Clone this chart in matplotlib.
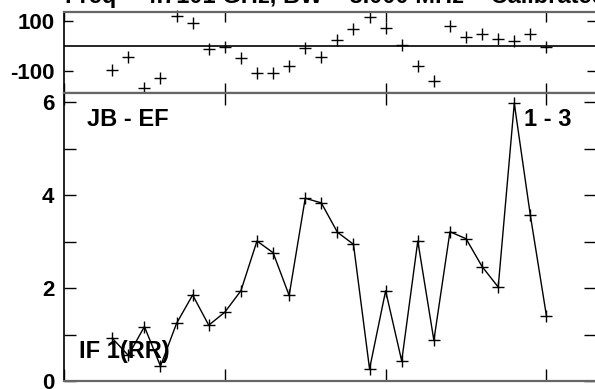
import numpy as np
import matplotlib.pyplot as plt

# ==================================================
W, H = 595, 389
TIEMPO = list(range(3, 31))      # 28 puntos, uno por unidad
FASE = [-95, -42, -167, -128, 120, 92, -13, -3, -46, -105,
        -105, -78, -7, -45, 24, 66, 116, 71, 3, -79,
        -138, 79, 37, 47, 26, 20, 47, -5]
AMPL = [0.92, 0.55, 1.17, 0.32, 1.24, 1.85, 1.20, 1.48, 1.94, 3.01,
        2.76, 1.84, 3.93, 3.83, 3.20, 2.94, 0.26, 1.94, 0.43, 3.01,
        0.875, 3.21, 3.06, 2.46, 2.02, 5.97, 3.56, 1.40]
TITULO = "Freq = 4.7101 GHz, BW = 8.000 MHz    Calibrated data"
GRIS = "#666666"
FS = 16
# ==================================================

plt.rcParams["font.family"] = ["Liberation Sans", "DejaVu Sans"]
plt.rcParams["font.weight"] = "bold"


def px(x, y):
    return x / W, 1 - y / H


def marco(ax):
    for s in ("top", "bottom"):
        ax.spines[s].set_color(GRIS); ax.spines[s].set_linewidth(1.6)
    ax.spines["left"].set_color("black"); ax.spines["left"].set_linewidth(1.2)
    ax.spines["right"].set_visible(False)
    ax.set_xlim(0, 33.1)
    ax.set_xticks([0, 10, 20, 30])
    ax.tick_params(axis="x", which="both", top=True, bottom=True, labelbottom=False,
                   direction="in", color="black", width=1)
    ax.tick_params(axis="y", which="both", left=True, right=True, direction="in",
                   width=1, labelsize=FS, pad=7)


fig = plt.figure(figsize=(W / 100, H / 100), dpi=100)
left, right = 64 / W, 596.3 / W

# panel de fase
axf = fig.add_axes([left, 1 - 92.7 / H, right - left, 80.7 / H])
marco(axf)
axf.set_ylim(-184, 134)
axf.set_yticks([-100, 100])
axf.set_yticklabels(["-100", "100"])
axf.tick_params(axis="y", length=6.5)
axf.tick_params(axis="x", length=7)
axf.axhline(0, color="black", lw=1.2)
axf.plot(TIEMPO, FASE, ls="none", marker="+", ms=9, mew=1, color="black", clip_on=False)

# panel de amplitud
axa = fig.add_axes([left, 1 - 381 / H, right - left, 288.3 / H])
marco(axa)
axa.set_ylim(0, 6.2)
axa.set_yticks([0, 2, 4, 6])
axa.set_yticks([1, 3, 5], minor=True)
axa.tick_params(axis="y", which="both", length=8.6)
axa.tick_params(axis="x", length=8.6)
axa.plot(TIEMPO, AMPL, color="black", lw=1, marker="+", ms=9, mew=1)

fig.text(*px(87, 126), "JB - EF", fontsize=17, fontweight="bold", va="baseline", ha="left")
fig.text(*px(572, 126), "1 - 3", fontsize=17, fontweight="bold", va="baseline", ha="right")
fig.text(*px(79, 358), "IF 1(RR)", fontsize=17, fontweight="bold", va="baseline", ha="left")
fig.text(*px(65, 3), TITULO, fontsize=17, fontweight="bold", va="baseline", ha="left")

fig.savefig("out.png", dpi=100)
